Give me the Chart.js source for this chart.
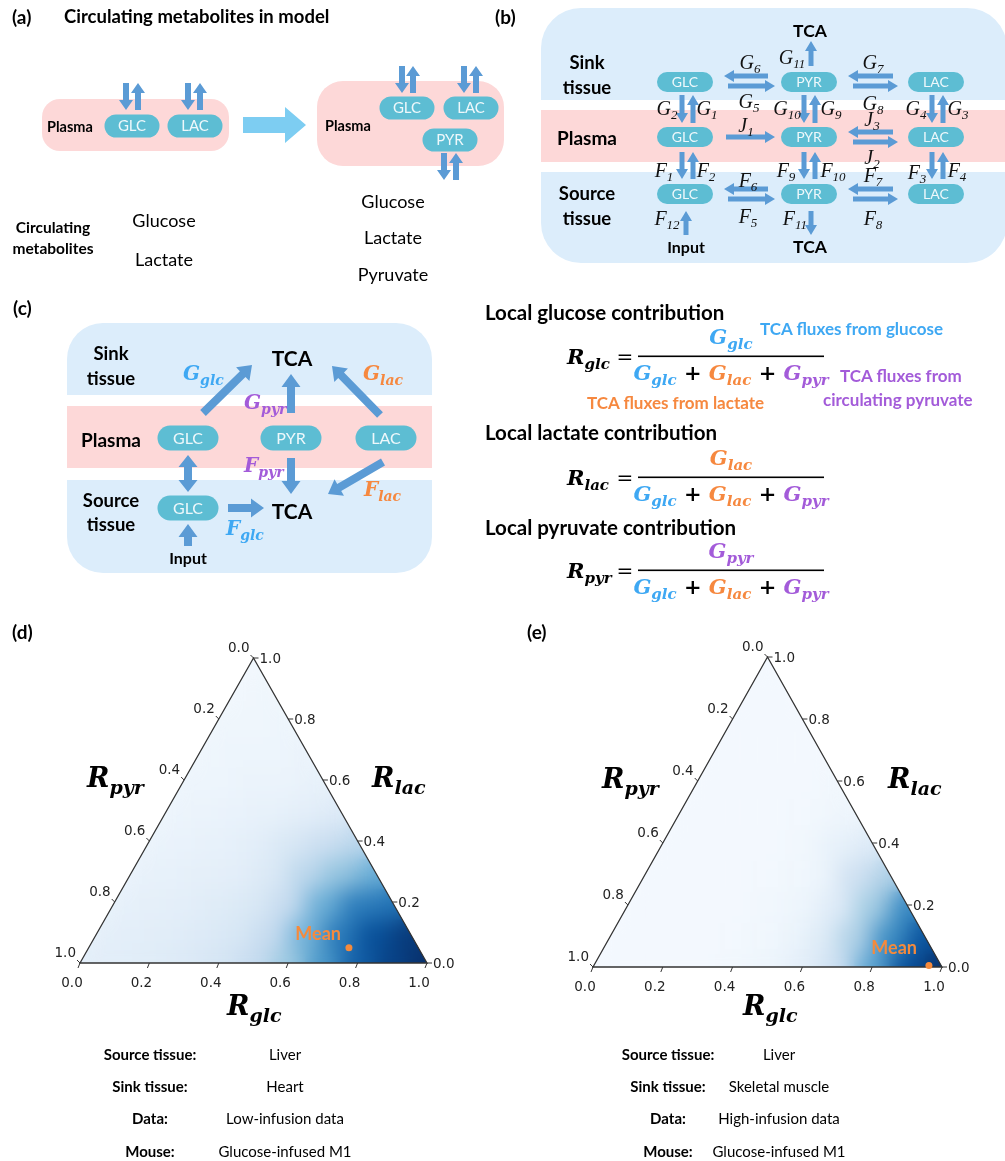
<!DOCTYPE html>
<html>
<head>
<meta charset="utf-8">
<script src="https://cdn.jsdelivr.net/npm/chart.js@4.4.0/dist/chart.umd.min.js"></script>
<style>
  body { margin: 0; background: #fff; }
  #page { position: relative; width: 1005px; height: 1161px; overflow: hidden; }
  .tern { position: absolute; width: 500px; height: 420px; }
  #diag { position: absolute; left: 0; top: 0; z-index: 2; pointer-events: none; }
</style>
</head>
<body>
<div id="page">
  <div class="tern" style="left:0;top:620px"><canvas id="ternHeart" width="500" height="420"></canvas></div>
  <div class="tern" style="left:510px;top:620px"><canvas id="ternMuscle" width="500" height="420"></canvas></div>
  <svg id="diag" width="1005" height="1161" xmlns="http://www.w3.org/2000/svg"></svg>
</div>
<script>
// ---- data ----
const tickValues = [0.0, 0.2, 0.4, 0.6, 0.8, 1.0];
const glcStep = 0.1;
const lacLevels = [0.0, 0.1, 0.2, 0.3, 0.4, 0.5, 0.6, 0.7, 0.8, 0.9, 1.0];

// density (colormap position 0..1), one row per R_lac level, R_glc = 0, 0.1, ... along the row
const densityHeart = [
  [0.10, 0.11, 0.12, 0.14, 0.17, 0.25, 0.38, 0.60, 0.82, 0.93, 1.00],
  [0.09, 0.10, 0.11, 0.13, 0.16, 0.25, 0.48, 0.72, 0.88, 0.96],
  [0.08, 0.09, 0.10, 0.12, 0.15, 0.25, 0.50, 0.70, 0.74],
  [0.07, 0.08, 0.09, 0.10, 0.14, 0.28, 0.40, 0.50],
  [0.06, 0.07, 0.08, 0.10, 0.15, 0.22, 0.28],
  [0.05, 0.06, 0.07, 0.08, 0.10, 0.13],
  [0.05, 0.05, 0.06, 0.06, 0.08],
  [0.04, 0.05, 0.05, 0.06],
  [0.04, 0.04, 0.05],
  [0.03, 0.04],
  [0.03],
];
const densityMuscle = [
  [0.02, 0.02, 0.02, 0.02, 0.03, 0.05, 0.10, 0.22, 0.55, 0.88, 1.00],
  [0.02, 0.02, 0.02, 0.02, 0.03, 0.05, 0.12, 0.32, 0.64, 0.86],
  [0.02, 0.02, 0.02, 0.02, 0.03, 0.05, 0.13, 0.36, 0.65],
  [0.02, 0.02, 0.02, 0.02, 0.03, 0.05, 0.20, 0.32],
  [0.02, 0.02, 0.02, 0.02, 0.03, 0.08, 0.13],
  [0.02, 0.02, 0.02, 0.02, 0.03, 0.05],
  [0.02, 0.02, 0.02, 0.02, 0.03],
  [0.02, 0.02, 0.02, 0.02],
  [0.02, 0.02, 0.02],
  [0.02, 0.02],
  [0.02],
];
// mean point [R_glc, R_lac]
const meanHeart = [0.75, 0.05];
const meanMuscle = [0.96, 0.005];

const infoLabels = ["Source tissue:", "Sink tissue:", "Data:", "Mouse:"];
const infoHeart = ["Liver", "Heart", "Low-infusion data", "Glucose-infused M1"];
const infoMuscle = ["Liver", "Skeletal muscle", "High-infusion data", "Glucose-infused M1"];

// ---- colours / fonts ----
const PILL = "#5dbdd3", ARROW = "#5b9bd5", PINK = "#fdd8d8", SKY = "#dcedfb";
const C_GLC = "#3ea8f3", C_LAC = "#f6883f", C_PYR = "#a35bd9";
const SANS = "Lato, 'Open Sans', sans-serif";
const SERIF = "'Liberation Serif', 'DejaVu Serif', serif";
const MATH = "'DejaVu Serif', serif";

// ---- svg helpers for the schematic panels ----
const parts = [];
function add(s) { parts.push(s); }

function T(x, cy, str, o = {}) {
  const fs = o.size || 14;
  add(`<text x="${x}" y="${cy + fs * 0.35}" font-size="${fs}" font-family="${o.family || SANS}" ` +
      `font-weight="${o.weight || 400}" font-style="${o.style || "normal"}" fill="${o.fill || "#000"}" ` +
      `text-anchor="${o.anchor || "start"}">${str}</text>`);
}

// text with subscripts: items are strings or [main, sub, colour]
function M(x, cy, items, o = {}) {
  const fs = o.size || 20, ss = o.sub || 14, off = o.off || 5;
  let inner = "", shifted = false;
  for (const it of items) {
    if (typeof it === "string") {
      inner += `<tspan dy="${shifted ? -off : 0}">${it}</tspan>`;
      shifted = false;
    } else {
      const c = it[2] || o.fill || "#000";
      inner += `<tspan fill="${c}" dy="${shifted ? -off : 0}">${it[0]}</tspan>` +
               `<tspan fill="${c}" font-size="${ss}" dy="${off}">${it[1]}</tspan>`;
      shifted = true;
    }
  }
  add(`<text x="${x}" y="${cy + fs * 0.33}" font-size="${fs}" font-family="${o.family || MATH}" ` +
      `font-weight="${o.weight || 700}" font-style="italic" fill="${o.fill || "#000"}" ` +
      `text-anchor="${o.anchor || "start"}" style="white-space:pre">${inner}</text>`);
}

function pill(cx, cy, w, h, label, fs) {
  add(`<rect x="${cx - w / 2}" y="${cy - h / 2}" width="${w}" height="${h}" rx="${h / 2}" fill="${PILL}"/>`);
  T(cx, cy, label, { size: fs, fill: "#eef8fb", anchor: "middle" });
}

function pt(x, y, nx, ny, k) { return `${(x + nx * k).toFixed(1)},${(y + ny * k).toFixed(1)}`; }

function arrow(x1, y1, x2, y2, w, hw, hl, fill = ARROW) {
  const L = Math.hypot(x2 - x1, y2 - y1), dx = (x2 - x1) / L, dy = (y2 - y1) / L;
  const nx = -dy, ny = dx, bx = x2 - dx * hl, by = y2 - dy * hl;
  const p = [pt(x1, y1, nx, ny, w / 2), pt(bx, by, nx, ny, w / 2), pt(bx, by, nx, ny, hw / 2), pt(x2, y2, nx, ny, 0),
             pt(bx, by, nx, ny, -hw / 2), pt(bx, by, nx, ny, -w / 2), pt(x1, y1, nx, ny, -w / 2)];
  add(`<polygon points="${p.join(" ")}" fill="${fill}"/>`);
}

function arrow2(x1, y1, x2, y2, w, hw, hl) {
  const L = Math.hypot(x2 - x1, y2 - y1), dx = (x2 - x1) / L, dy = (y2 - y1) / L;
  const nx = -dy, ny = dx;
  const ax = x1 + dx * hl, ay = y1 + dy * hl, bx = x2 - dx * hl, by = y2 - dy * hl;
  const p = [pt(x1, y1, nx, ny, 0), pt(ax, ay, nx, ny, hw / 2), pt(ax, ay, nx, ny, w / 2), pt(bx, by, nx, ny, w / 2),
             pt(bx, by, nx, ny, hw / 2), pt(x2, y2, nx, ny, 0), pt(bx, by, nx, ny, -hw / 2), pt(bx, by, nx, ny, -w / 2),
             pt(ax, ay, nx, ny, -w / 2), pt(ax, ay, nx, ny, -hw / 2)];
  add(`<polygon points="${p.join(" ")}" fill="${ARROW}"/>`);
}

function upDown(xDown, xUp, yTop, yBot, w, hw, hl) {
  arrow(xDown, yTop, xDown, yBot, w, hw, hl);
  arrow(xUp, yBot, xUp, yTop, w, hw, hl);
}

// ---------------- panel (a) ----------------
T(12, 17, "(a)", { size: 19, weight: 700 });
T(64, 17, "Circulating metabolites in model", { size: 18.5, weight: 700 });
add(`<rect x="42" y="99" width="187" height="52" rx="18" fill="${PINK}"/>`);
T(47, 127, "Plasma", { size: 14.5, weight: 700 });
pill(132, 126, 55, 23, "GLC", 15);
pill(195, 126, 55, 23, "LAC", 15);
upDown(126, 138, 83, 110, 6, 14, 10);
upDown(188, 200, 83, 110, 6, 14, 10);
add(`<polygon points="243,117 285,117 285,107 306,125 285,143 285,133 243,133" fill="#7dcdf2"/>`);
add(`<rect x="317" y="81" width="187" height="85" rx="26" fill="${PINK}"/>`);
T(325, 126, "Plasma", { size: 14.5, weight: 700 });
pill(407, 108, 55, 23, "GLC", 15);
pill(471, 108, 55, 23, "LAC", 15);
pill(450, 140, 55, 23, "PYR", 15);
upDown(402, 413, 66, 93, 6, 14, 10);
upDown(464, 476, 66, 93, 6, 14, 10);
upDown(444, 456, 153, 180, 6, 14, 10);
T(53, 228, "Circulating", { size: 15.5, weight: 700, anchor: "middle" });
T(53, 249, "metabolites", { size: 15.5, weight: 700, anchor: "middle" });
T(164, 221, "Glucose", { size: 18, anchor: "middle" });
T(164, 260, "Lactate", { size: 18, anchor: "middle" });
T(393, 202, "Glucose", { size: 18, anchor: "middle" });
T(393, 238, "Lactate", { size: 18, anchor: "middle" });
T(393, 275, "Pyruvate", { size: 18, anchor: "middle" });

// ---------------- panel (b) ----------------
T(495, 17, "(b)", { size: 19, weight: 700 });
add(`<clipPath id="clipB"><rect x="541" y="8" width="466" height="255" rx="40"/></clipPath>`);
add(`<g clip-path="url(#clipB)"><rect x="541" y="8" width="466" height="255" fill="${SKY}"/>` +
    `<rect x="541" y="100" width="466" height="72" fill="#fff"/>` +
    `<rect x="541" y="110" width="466" height="52" fill="${PINK}"/></g>`);
T(587, 63, "Sink", { size: 18.5, weight: 700, anchor: "middle" });
T(587, 88, "tissue", { size: 18.5, weight: 700, anchor: "middle" });
T(587, 138, "Plasma", { size: 19, weight: 700, anchor: "middle" });
T(587, 194, "Source", { size: 18.5, weight: 700, anchor: "middle" });
T(587, 219, "tissue", { size: 18.5, weight: 700, anchor: "middle" });
T(686, 247, "Input", { size: 16, weight: 700, anchor: "middle" });
T(810, 31, "TCA", { size: 17.5, weight: 700, anchor: "middle" });
T(810, 247, "TCA", { size: 17.5, weight: 700, anchor: "middle" });
const colsB = [[685, "GLC"], [809, "PYR"], [936, "LAC"]];
const rowsB = [82, 137, 194];
rowsB.forEach(y => colsB.forEach(c => pill(c[0], y, 56, 20, c[1], 14)));
const AW = [5, 12, 10];
// horizontal exchanges
[[76, 86, true], [132, 142, false], [189, 199, true]].forEach(r => {
  if (r[2]) { arrow(768, r[0], 724, r[0], ...AW); arrow(728, r[1], 775, r[1], ...AW); }
  arrow(893, r[0], 848, r[0], ...AW); arrow(853, r[1], 898, r[1], ...AW);
});
arrow(726, 137, 775, 137, ...AW);
[[682, 693], [804, 815], [932, 943]].forEach(c => {
  upDown(c[0], c[1], 95, 123, ...AW);
  upDown(c[0], c[1], 152, 179, ...AW);
});
arrow(811, 66, 811, 41, ...AW);
arrow(811, 211, 811, 235, ...AW);
arrow(686, 235, 686, 211, ...AW);
const fluxLabelsB = [
  [750, 62, "G", "6"], [792, 57, "G", "11"], [873, 62, "G", "7"], [749, 101, "G", "5"], [873, 103, "G", "8"],
  [667, 108, "G", "2"], [707, 108, "G", "1"], [787, 108, "G", "10"], [831, 108, "G", "9"], [916, 108, "G", "4"], [958, 108, "G", "3"],
  [746, 125, "J", "1"], [872, 119, "J", "3"], [872, 157, "J", "2"],
  [664, 170, "F", "1"], [706, 170, "F", "2"], [786, 170, "F", "9"], [833, 170, "F", "10"], [873, 175, "F", "7"],
  [917, 172, "F", "3"], [957, 170, "F", "4"], [748, 180, "F", "6"], [748, 216, "F", "5"], [873, 218, "F", "8"],
  [667, 218, "F", "12"], [795, 218, "F", "11"],
];
fluxLabelsB.forEach(l => M(l[0], l[1], [[l[2], l[3]]], { family: SERIF, weight: 400, size: 20, sub: 13, off: 4, anchor: "middle", fill: "#111" }));

// ---------------- panel (c) left ----------------
T(13, 308, "(c)", { size: 19, weight: 700 });
add(`<clipPath id="clipC"><rect x="67" y="323" width="365" height="250" rx="36"/></clipPath>`);
add(`<g clip-path="url(#clipC)"><rect x="67" y="323" width="365" height="250" fill="${SKY}"/>` +
    `<rect x="67" y="395" width="365" height="85" fill="#fff"/>` +
    `<rect x="67" y="406" width="365" height="62" fill="${PINK}"/></g>`);
T(111, 354, "Sink", { size: 18.5, weight: 700, anchor: "middle" });
T(111, 379, "tissue", { size: 18.5, weight: 700, anchor: "middle" });
T(111, 440, "Plasma", { size: 19, weight: 700, anchor: "middle" });
T(111, 501, "Source", { size: 18.5, weight: 700, anchor: "middle" });
T(111, 525, "tissue", { size: 18.5, weight: 700, anchor: "middle" });
T(188, 558, "Input", { size: 16, weight: 700, anchor: "middle" });
T(292, 359, "TCA", { size: 21, weight: 700, anchor: "middle" });
T(292, 512, "TCA", { size: 21, weight: 700, anchor: "middle" });
pill(188, 438, 61, 25, "GLC", 16);
pill(291, 438, 61, 25, "PYR", 16);
pill(386, 438, 61, 25, "LAC", 16);
pill(188, 508, 61, 25, "GLC", 16);
const AC = [8, 19, 13];
arrow(203, 413, 252, 365, ...AC);
arrow(380, 415, 332, 366, ...AC);
arrow(291, 413, 291, 374, ...AC);
arrow(291, 458, 291, 494, ...AC);
arrow(383, 462, 328, 494, ...AC);
arrow2(188, 455, 188, 492, 8, 19, 12);
arrow(228, 508, 264, 508, ...AC);
arrow(188, 546, 188, 524, ...AC);
const CM = { size: 20, sub: 14, off: 5 };
M(183, 373, [["G", "glc", C_GLC]], CM);
M(363, 373, [["G", "lac", C_LAC]], CM);
M(244, 402, [["G", "pyr", C_PYR]], CM);
M(244, 465, [["F", "pyr", C_PYR]], CM);
M(364, 489, [["F", "lac", C_LAC]], CM);
M(226, 528, [["F", "glc", C_GLC]], CM);

// ---------------- panel (c) right: formulas ----------------
const denom = [["G", "glc", C_GLC], "\u00a0+\u00a0", ["G", "lac", C_LAC], "\u00a0+\u00a0", ["G", "pyr", C_PYR]];
const FM = { size: 21, sub: 15, off: 5 };
function fraction(cy, name, num) {
  M(567, cy, [["R", name, "#000"]], FM);
  T(625, cy, "=", { size: 20, family: MATH, anchor: "middle" });
  add(`<rect x="638" y="${cy - 1.5}" width="186" height="1.6" fill="#000"/>`);
  M(731, cy - 20, [num], Object.assign({ anchor: "middle" }, FM));
  M(731, cy + 16, denom, Object.assign({ anchor: "middle" }, FM));
}
T(485, 313, "Local glucose contribution", { size: 20.5, weight: 700 });
fraction(357, "glc", ["G", "glc", C_GLC]);
T(760, 329, "TCA fluxes from glucose", { size: 17, weight: 700, fill: C_GLC });
T(840, 376, "TCA fluxes from", { size: 17, weight: 700, fill: C_PYR });
T(823, 400, "circulating pyruvate", { size: 17, weight: 700, fill: C_PYR });
T(587, 403, "TCA fluxes from lactate", { size: 17, weight: 700, fill: C_LAC });
T(485, 433, "Local lactate contribution", { size: 20.5, weight: 700 });
fraction(478, "lac", ["G", "lac", C_LAC]);
T(485, 528, "Local pyruvate contribution", { size: 20.5, weight: 700 });
fraction(571, "pyr", ["G", "pyr", C_PYR]);

// ---------------- panels (d), (e) labels ----------------
T(12, 632, "(d)", { size: 19, weight: 700 });
T(527, 632, "(e)", { size: 19, weight: 700 });
const AX = { size: 27, sub: 19, off: 7 };
M(87, 778, [["R", "pyr"]], AX);
M(372, 778, [["R", "lac"]], AX);
M(227, 1006, [["R", "glc"]], AX);
M(602, 779, [["R", "pyr"]], AX);
M(888, 779, [["R", "lac"]], AX);
M(743, 1006, [["R", "glc"]], AX);
const infoRows = [1055, 1087, 1119, 1152];
infoRows.forEach((y, i) => {
  T(150, y, infoLabels[i], { size: 15, weight: 700, anchor: "middle" });
  T(285, y, infoHeart[i], { size: 15, anchor: "middle" });
  T(668, y, infoLabels[i], { size: 15, weight: 700, anchor: "middle" });
  T(779, y, infoMuscle[i], { size: 15, anchor: "middle" });
});
document.getElementById("diag").innerHTML = parts.join("");

// ---------------- ternary density charts ----------------
const bluesStops = ["#f7fbff", "#deebf7", "#c6dbef", "#9ecae1", "#6baed6", "#4292c6", "#2171b5", "#08519c", "#08306b"];
function hexRgb(h) { return [1, 3, 5].map(k => parseInt(h.substr(k, 2), 16)); }
function blues(v) {
  const p = Math.max(0, Math.min(1, v)) * (bluesStops.length - 1);
  const i = Math.min(bluesStops.length - 2, Math.floor(p)), t = p - i;
  const a = hexRgb(bluesStops[i]), b = hexRgb(bluesStops[i + 1]);
  return `rgb(${a.map((c, k) => Math.round(c + (b[k] - c) * t)).join(",")})`;
}

function gridPoints(rows) {
  const pts = [];
  rows.forEach((row, j) => {
    const lac = lacLevels[j];
    row.forEach((v, i) => pts.push({ x: i * glcStep + lac / 2, y: lac, v: v }));
  });
  return pts;
}

function corner(chart, glc, lac) {
  return [chart.scales.x.getPixelForValue(glc + lac / 2), chart.scales.y.getPixelForValue(lac)];
}

function trianglePath(ctx, chart) {
  const a = corner(chart, 0, 0), b = corner(chart, 1, 0), c = corner(chart, 0, 1);
  ctx.beginPath();
  ctx.moveTo(a[0], a[1]); ctx.lineTo(b[0], b[1]); ctx.lineTo(c[0], c[1]); ctx.closePath();
}

function drawFrame(chart) {
  const ctx = chart.ctx;
  ctx.save();
  trianglePath(ctx, chart);
  ctx.strokeStyle = "#333";
  ctx.lineWidth = 1.3;
  ctx.stroke();
  ctx.font = "13.5px 'DejaVu Sans', sans-serif";
  ctx.fillStyle = "#222";
  ctx.lineWidth = 1;
  tickValues.forEach(t => {
    const lbl = t.toFixed(1);
    // bottom: R_glc
    let p = corner(chart, t, 0);
    ctx.beginPath(); ctx.moveTo(p[0], p[1]); ctx.lineTo(p[0] - 2, p[1] + 5); ctx.stroke();
    ctx.textAlign = "center"; ctx.textBaseline = "middle";
    ctx.fillText(lbl, p[0] - 8, p[1] + 20);
    // right: R_lac
    p = corner(chart, 1 - t, t);
    ctx.beginPath(); ctx.moveTo(p[0], p[1]); ctx.lineTo(p[0] + 5, p[1]); ctx.stroke();
    ctx.textAlign = "left";
    ctx.fillText(lbl, p[0] + 6, p[1] + 1);
    // left: R_pyr
    p = corner(chart, 0, 1 - t);
    ctx.beginPath(); ctx.moveTo(p[0], p[1]); ctx.lineTo(p[0] - 3, p[1] - 3); ctx.stroke();
    ctx.textAlign = "right";
    ctx.fillText(lbl, p[0] - 4, p[1] - 10);
  });
  ctx.restore();
}

// density: a sharp base layer, then the same cells drawn into a side canvas
// and pasted back blurred as one layer so neighbouring cells blend
const ternaryPlugin = {
  id: "ternary",
  beforeDatasetDraw(chart, args) {
    const layer = chart.data.datasets[args.index].layer;
    if (!layer) return;
    if (layer === "blur") {
      const side = chart.$side || (chart.$side = document.createElement("canvas"));
      side.width = chart.canvas.width;
      side.height = chart.canvas.height;
      args.meta.controller._ctx = side.getContext("2d");
      return;
    }
    const ctx = chart.ctx;
    ctx.save();
    trianglePath(ctx, chart);
    ctx.clip();
  },
  afterDatasetDraw(chart, args) {
    const layer = chart.data.datasets[args.index].layer;
    if (!layer) return;
    const ctx = chart.ctx;
    if (layer === "blur") {
      args.meta.controller._ctx = ctx;
      ctx.save();
      trianglePath(ctx, chart);
      ctx.clip();
      ctx.filter = "blur(11px)";
      ctx.drawImage(chart.$side, 0, 0, chart.width, chart.height);
      ctx.restore();
      drawFrame(chart);
      return;
    }
    ctx.restore();
  },
  afterDraw(chart) {
    const m = chart.getDatasetMeta(2).data[0];
    const opt = chart.options.plugins.ternary;
    const ctx = chart.ctx;
    ctx.save();
    ctx.font = "bold 18px Lato, sans-serif";
    ctx.fillStyle = "#f58a3c";
    ctx.textAlign = "right";
    ctx.textBaseline = "middle";
    ctx.fillText("Mean", m.x + opt.meanDx, m.y + opt.meanDy);
    ctx.restore();
  },
};

function densitySet(rows, layer, order) {
  return {
    label: "density",
    layer: layer,
    data: gridPoints(rows),
    pointStyle: "rect",
    pointRadius: 25,
    borderWidth: 0,
    backgroundColor: ctx => blues(ctx.raw ? ctx.raw.v : 0),
    clip: false,
    order: order,
  };
}

function makeTernary(id, rows, mean, pad, meanOffset) {
  return new Chart(document.getElementById(id), {
    type: "scatter",
    data: {
      datasets: [
        densitySet(rows, "sharp", 3),
        densitySet(rows, "blur", 2),
        {
          label: "Mean",
          data: [{ x: mean[0] + mean[1] / 2, y: mean[1] }],
          pointRadius: 3.5,
          borderWidth: 0,
          backgroundColor: "#f58a3c",
          clip: false,
          order: 1,
        },
      ],
    },
    options: {
      responsive: false,
      animation: false,
      events: [],
      layout: { padding: pad },
      scales: {
        x: { type: "linear", min: 0, max: 1, display: false },
        y: { type: "linear", min: 0, max: 1, display: false },
      },
      plugins: {
        legend: { display: false },
        tooltip: { enabled: false },
        ternary: { meanDx: meanOffset[0], meanDy: meanOffset[1] },
      },
    },
    plugins: [ternaryPlugin],
  });
}

makeTernary("ternHeart", densityHeart, meanHeart, { left: 80, right: 73, top: 38, bottom: 77 }, [-8, -14]);
makeTernary("ternMuscle", densityMuscle, meanMuscle, { left: 83, right: 68, top: 37, bottom: 73 }, [-12, -17]);
</script>
</body>
</html>
